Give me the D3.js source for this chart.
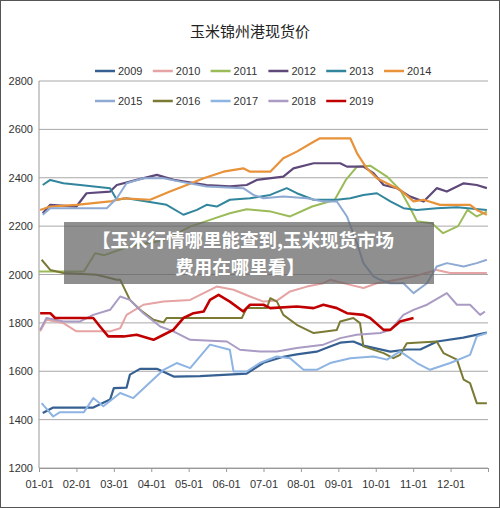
<!DOCTYPE html>
<html><head><meta charset="utf-8">
<script src="https://d3js.org/d3.v7.min.js"></script>
<style>body{margin:0;background:#fff}svg{display:block}</style>
</head><body>
<svg id="c" width="500" height="508"></svg>
<script>
// [month since 01-01, price]
var s2009 = [[0.1,1427],[0.38,1450],[1.45,1450],[1.9,1483],[2.0,1530],[2.34,1532],[2.43,1586],[2.7,1610],[3.15,1610],[3.6,1578],[4.3,1580],[5.55,1590],[6.0,1635],[6.53,1660],[6.89,1670],[7.42,1681],[7.78,1702],[8.05,1718],[8.4,1723],[8.67,1706],[9.39,1681],[9.83,1690],[10.19,1690],[10.64,1723],[11.34,1739],[11.97,1760]];
var s2010 = [[0.03,1765],[0.2,1813],[0.65,1799],[1.0,1765],[1.9,1765],[2.17,1778],[2.34,1833],[2.79,1875],[3.33,1888],[4.04,1895],[4.4,1923],[4.75,1950],[5.2,1937],[5.64,1909],[6.0,1888],[6.36,1892],[6.71,1930],[7.16,1950],[7.6,1964],[7.78,1978],[8.32,1957],[8.67,1944],[9.03,1964],[9.56,1978],[10.01,1992],[10.63,2019],[10.99,2006],[11.97,2006]];
var s2011 = [[0,2012],[1.2,2012],[1.5,2088],[1.75,2080],[2.4,2116],[3.3,2140],[4.04,2198],[4.57,2226],[5.1,2253],[5.55,2270],[6.2,2260],[6.71,2240],[7.3,2281],[7.9,2308],[8.2,2391],[8.5,2446],[8.85,2450],[9.3,2405],[9.65,2350],[9.9,2281],[10.1,2220],[10.5,2212],[10.8,2171],[11.2,2200],[11.45,2267],[11.7,2240],[11.97,2260]];
var s2012 = [[0.1,2253],[0.3,2288],[1.0,2281],[1.27,2336],[1.9,2343],[2.08,2370],[2.61,2391],[3.15,2412],[3.6,2391],[4.48,2370],[5.1,2364],[5.55,2370],[5.82,2391],[6.53,2405],[6.8,2439],[7.34,2460],[8.05,2460],[8.23,2446],[8.67,2446],[8.94,2419],[9.21,2370],[9.56,2357],[9.92,2322],[10.28,2302],[10.63,2357],[10.9,2343],[11.35,2377],[11.7,2370],[11.97,2357]];
var s2013 = [[0.1,2370],[0.3,2391],[0.65,2377],[1.1,2370],[1.9,2357],[2.08,2309],[2.34,2315],[2.88,2302],[3.41,2288],[3.86,2247],[4.22,2267],[4.48,2288],[4.75,2281],[5.1,2309],[5.64,2315],[6.18,2329],[6.62,2357],[6.89,2336],[7.34,2309],[7.96,2309],[8.32,2315],[8.67,2329],[9.03,2336],[9.39,2302],[9.74,2274],[10.1,2267],[10.63,2274],[11.17,2278],[11.97,2267]];
var s2014 = [[0.03,2267],[0.3,2281],[1.0,2288],[1.9,2302],[2.26,2315],[2.97,2309],[3.5,2343],[3.95,2370],[4.4,2398],[4.93,2425],[5.46,2439],[5.64,2425],[6.18,2425],[6.53,2481],[6.89,2508],[7.34,2549],[7.51,2563],[8.32,2563],[8.5,2501],[8.76,2439],[9.03,2398],[9.39,2370],[9.65,2350],[10.01,2302],[10.28,2309],[10.72,2288],[11.52,2288],[11.7,2267],[11.97,2247]];
var s2015 = [[0.1,2247],[0.3,2274],[1.81,2274],[2.08,2315],[2.34,2377],[2.79,2398],[3.33,2398],[3.77,2384],[4.48,2364],[5.46,2357],[5.73,2329],[6.0,2315],[6.53,2322],[7.16,2315],[7.6,2302],[7.96,2302],[8.23,2240],[8.5,2129],[8.67,2047],[8.94,1992],[9.12,1978],[9.39,1964],[9.74,1964],[10.01,1923],[10.37,1964],[10.63,2033],[10.9,2047],[11.35,2033],[11.7,2047],[11.97,2061]];
var s2016 = [[0.07,2061],[0.3,2019],[0.65,2006],[1.54,1999],[2.08,1978],[2.17,1978],[2.43,1895],[2.7,1854],[3.06,1813],[3.33,1802],[3.41,1820],[5.42,1820],[5.55,1861],[6.09,1861],[6.18,1902],[6.36,1888],[6.53,1833],[6.89,1792],[7.34,1758],[7.96,1771],[8.05,1806],[8.4,1820],[8.58,1799],[8.67,1703],[9.21,1675],[9.47,1654],[9.65,1668],[9.83,1716],[10.63,1723],[10.81,1675],[11.17,1648],[11.35,1565],[11.52,1551],[11.7,1468],[11.97,1468]];
var s2017 = [[0.07,1468],[0.38,1413],[0.56,1431],[1.2,1431],[1.45,1489],[1.72,1455],[2.17,1510],[2.52,1489],[3.33,1606],[3.68,1634],[4.04,1613],[4.57,1710],[5.1,1689],[5.2,1599],[5.55,1599],[5.9,1634],[6.36,1661],[6.71,1654],[7.07,1606],[7.42,1606],[7.78,1634],[8.32,1654],[8.94,1661],[9.3,1648],[9.65,1682],[10.1,1634],[10.45,1606],[10.99,1634],[11.52,1668],[11.7,1744],[11.97,1758]];
var s2018 = [[0.03,1771],[0.2,1820],[0.65,1806],[1.1,1806],[1.45,1833],[1.9,1854],[2.17,1909],[2.43,1895],[2.79,1840],[3.24,1785],[3.59,1765],[4.04,1730],[5.02,1723],[5.37,1689],[5.9,1682],[6.36,1682],[6.89,1696],[7.6,1710],[8.05,1737],[8.49,1751],[9.12,1758],[9.39,1771],[9.74,1833],[10.01,1854],[10.37,1875],[10.9,1923],[11.17,1875],[11.52,1875],[11.79,1833],[11.92,1847]];
var s2019 = [[0.03,1840],[0.3,1840],[0.43,1820],[1.45,1820],[1.63,1785],[1.85,1744],[2.26,1744],[2.61,1751],[3.06,1730],[3.33,1751],[3.59,1771],[3.86,1820],[4.13,1840],[4.4,1847],[4.57,1895],[4.8,1916],[5.1,1888],[5.46,1847],[5.64,1875],[6.0,1875],[6.18,1861],[6.89,1868],[7.34,1861],[7.6,1875],[7.96,1861],[8.23,1840],[8.67,1833],[8.85,1820],[9.21,1771],[9.39,1771],[9.65,1806],[10.01,1820]];

var years = ['2009','2010','2011','2012','2013','2014','2015','2016','2017','2018','2019'];
var seriesData = [s2009,s2010,s2011,s2012,s2013,s2014,s2015,s2016,s2017,s2018,s2019];
var colors = ['#376092','#e6a3a3','#9bbb59','#5f497a','#31859c','#e8923a','#8eaad2','#7a7a35','#8db4e2','#a99bc4','#c00000'];
var widths = [2.2,2,2,2.2,2,2.2,2,2,2,2,2.6];
var yTicks = [1200,1400,1600,1800,2000,2200,2400,2600,2800];
var xLabels = ['01-01','02-01','03-01','04-01','05-01','06-01','07-01','08-01','09-01','10-01','11-01','12-01'];

var svg = d3.select('#c');
var font = "'Noto Sans CJK SC','Liberation Sans',sans-serif";
var narrow = "'Liberation Sans Narrow','Liberation Sans',sans-serif";
var x = d3.scaleLinear().domain([0,12]).range([39,488]);
var y = d3.scaleLinear().domain([1200,2800]).range([468,81]);

svg.append('rect').attr('x',0.5).attr('y',0.5).attr('width',499).attr('height',507)
  .attr('fill','#fff').attr('stroke','#555');

svg.append('text').attr('x',250).attr('y',37).attr('text-anchor','middle')
  .attr('font-family',font).attr('font-size',15).attr('fill','#222').text('玉米锦州港现货价');

// grid
svg.append('g').selectAll('line').data(yTicks).join('line')
  .attr('x1',39).attr('x2',488).attr('y1',d=>y(d)).attr('y2',d=>y(d))
  .attr('stroke','#a8a8a8').attr('stroke-width',1);
svg.append('g').selectAll('text').data(yTicks).join('text')
  .attr('x',33).attr('y',d=>y(d)+4).attr('text-anchor','end')
  .attr('font-family',narrow).attr('font-size',11).attr('fill','#333').text(d=>d);
svg.append('line').attr('x1',39).attr('x2',39).attr('y1',81).attr('y2',468).attr('stroke','#999');

var xa = svg.append('g').attr('transform','translate(0,468)')
  .call(d3.axisBottom(x).tickValues(d3.range(0,13)).tickSize(4).tickFormat(d=>xLabels[d]||''));
xa.select('.domain').attr('stroke','#999');
xa.selectAll('line').attr('stroke','#999');
xa.selectAll('text').attr('font-family',narrow).attr('font-size',11).attr('fill','#333').attr('dy','1.2em');

// legend
var leg = svg.append('g').selectAll('g').data(years).join('g')
  .attr('transform',(d,i)=>'translate('+(95+(i%6)*57.8)+','+(i<6?71:101)+')');
leg.append('line').attr('x1',0).attr('x2',20).attr('stroke',(d,i)=>colors[i]).attr('stroke-width',2.5);
leg.append('text').attr('x',23).attr('y',4).attr('font-family',narrow)
  .attr('font-size',11).attr('fill','#333').text(d=>d);

var line = d3.line().x(d=>x(d[0])).y(d=>y(d[1]));
svg.append('g').selectAll('path').data(seriesData).join('path')
  .attr('d',line).attr('fill','none').attr('stroke',(d,i)=>colors[i])
  .attr('stroke-width',(d,i)=>widths[i]).attr('stroke-linejoin','round');

// banner overlay
svg.append('rect').attr('x',64).attr('y',222).attr('width',370).attr('height',62)
  .attr('fill','rgb(100,100,100)').attr('opacity',0.72);
var bt = svg.append('text').attr('font-family',font).attr('font-weight','bold')
  .attr('font-size',18.5).attr('fill','#fff').attr('text-anchor','middle');
bt.append('tspan').attr('x',243).attr('y',247).text('【玉米行情哪里能查到,玉米现货市场');
bt.append('tspan').attr('x',240).attr('y',274).text('费用在哪里看】');
</script>
</body></html>
